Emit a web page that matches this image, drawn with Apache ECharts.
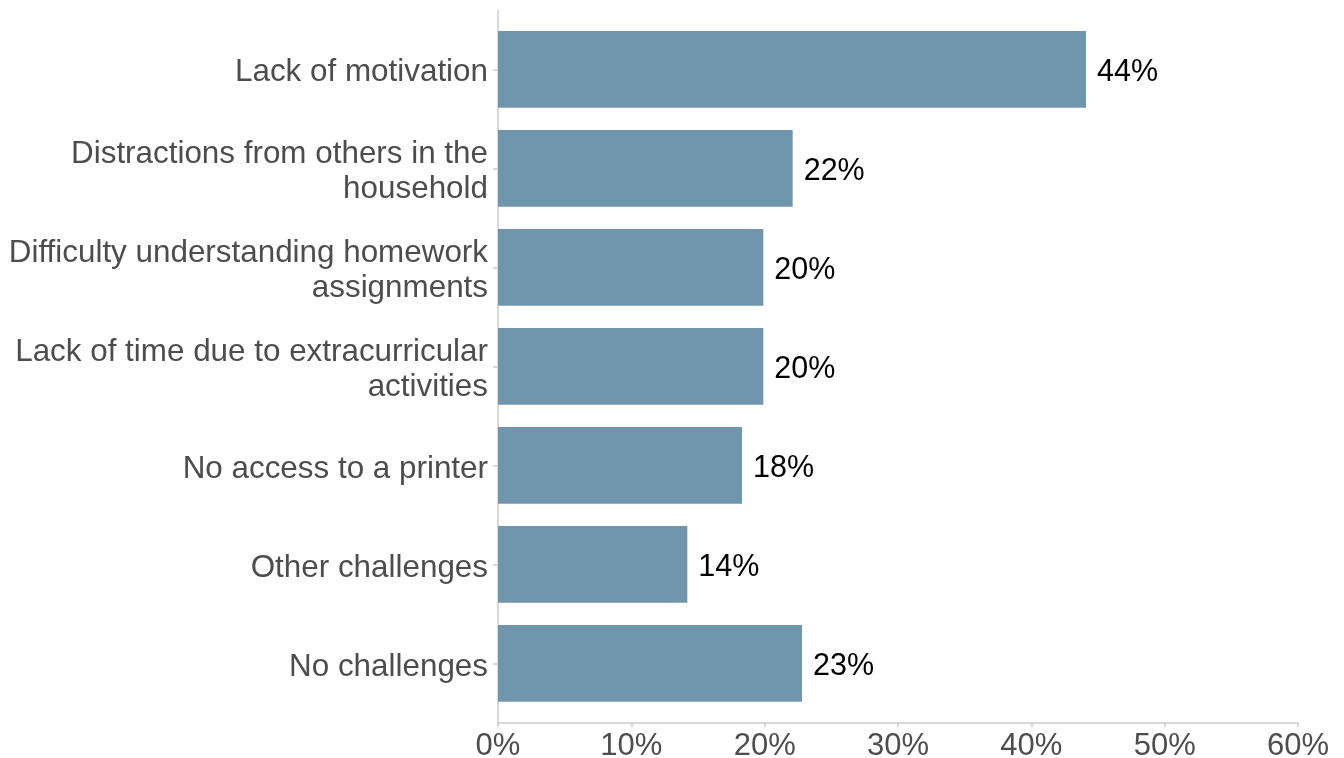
<!DOCTYPE html>
<html>
<head>
<meta charset="utf-8">
<title>Homework challenges</title>
<script src="https://cdn.jsdelivr.net/npm/echarts@6/dist/echarts.min.js"></script>
<style>
  html, body { margin: 0; padding: 0; background: #ffffff; }
  #chart { width: 1344px; height: 758px; }
</style>
</head>
<body>
<div id="chart"></div>
<script>
// Survey responses: challenges students face doing homework (share of respondents, %)
const categories = [
  'Lack of motivation',
  'Distractions from others in the\nhousehold',
  'Difficulty understanding homework\nassignments',
  'Lack of time due to extracurricular\nactivities',
  'No access to a printer',
  'Other challenges',
  'No challenges'
];
const shares = [44.1, 22.1, 19.9, 19.9, 18.3, 14.2, 22.8];
const xTicks = [0, 10, 20, 30, 40, 50, 60];

const FONT = "'Liberation Sans', Arial, Helvetica, sans-serif";
const AXIS_GREY = '#cccccc';
const TEXT_GREY = '#4d4d4d';
const BAR_BLUE = '#7096ae';

const chart = echarts.init(document.getElementById('chart'), null, { renderer: 'canvas' });

const GRID_BASE = { left: 498, right: 46, containLabel: false, outerBoundsMode: 'none' };

chart.setOption({
  animation: false,
  backgroundColor: '#ffffff',
  grid: [
    // bars and category ticks
    Object.assign({ top: 19.8, bottom: 45.1 }, GRID_BASE),
    // axis frame, slightly expanded beyond the bar bands
    Object.assign({ top: 10, bottom: 35.7 }, GRID_BASE),
    // category label band, nudged so the text sits optically centred on each bar
    Object.assign({ top: 23.3, bottom: 41.6 }, GRID_BASE)
  ],
  xAxis: [
    {
      gridIndex: 0, type: 'value', min: xTicks[0], max: xTicks[xTicks.length - 1], interval: 10,
      show: false
    },
    {
      gridIndex: 1, type: 'value', min: xTicks[0], max: xTicks[xTicks.length - 1], interval: 10,
      axisLine: { show: true, lineStyle: { color: AXIS_GREY, width: 1.5 } },
      axisTick: { show: true, length: 5, lineStyle: { color: AXIS_GREY, width: 1.5 } },
      splitLine: { show: false },
      axisLabel: {
        color: TEXT_GREY, fontFamily: FONT, fontSize: 31, margin: 9,
        formatter: v => v + '%'
      }
    },
    {
      gridIndex: 2, type: 'value', min: xTicks[0], max: xTicks[xTicks.length - 1], interval: 10,
      show: false
    }
  ],
  yAxis: [
    {
      gridIndex: 0, type: 'category', data: categories, inverse: true,
      axisLine: { show: false },
      axisTick: { show: true, alignWithLabel: true, length: 5, lineStyle: { color: AXIS_GREY, width: 1.5 } },
      axisLabel: { show: false },
      splitLine: { show: false }
    },
    {
      gridIndex: 1, type: 'value', min: 0, max: 1,
      axisLine: { show: true, lineStyle: { color: AXIS_GREY, width: 1.5 } },
      axisTick: { show: false },
      axisLabel: { show: false },
      splitLine: { show: false }
    },
    {
      gridIndex: 2, type: 'category', data: categories, inverse: true,
      axisLine: { show: false },
      axisTick: { show: false },
      axisLabel: {
        color: TEXT_GREY, fontFamily: FONT, fontSize: 31.4, lineHeight: 34.5, margin: 10, align: 'right'
      },
      splitLine: { show: false }
    }
  ],
  series: [
    {
      type: 'bar',
      xAxisIndex: 0,
      yAxisIndex: 0,
      data: shares,
      barWidth: '77.5%',
      itemStyle: { color: BAR_BLUE },
      label: {
        show: true,
        position: 'right',
        distance: 11,
        offset: [0, 3.5],
        color: '#000000',
        fontFamily: FONT,
        fontSize: 30.5,
        formatter: p => Math.round(p.value) + '%'
      }
    }
  ]
});
</script>
</body>
</html>
